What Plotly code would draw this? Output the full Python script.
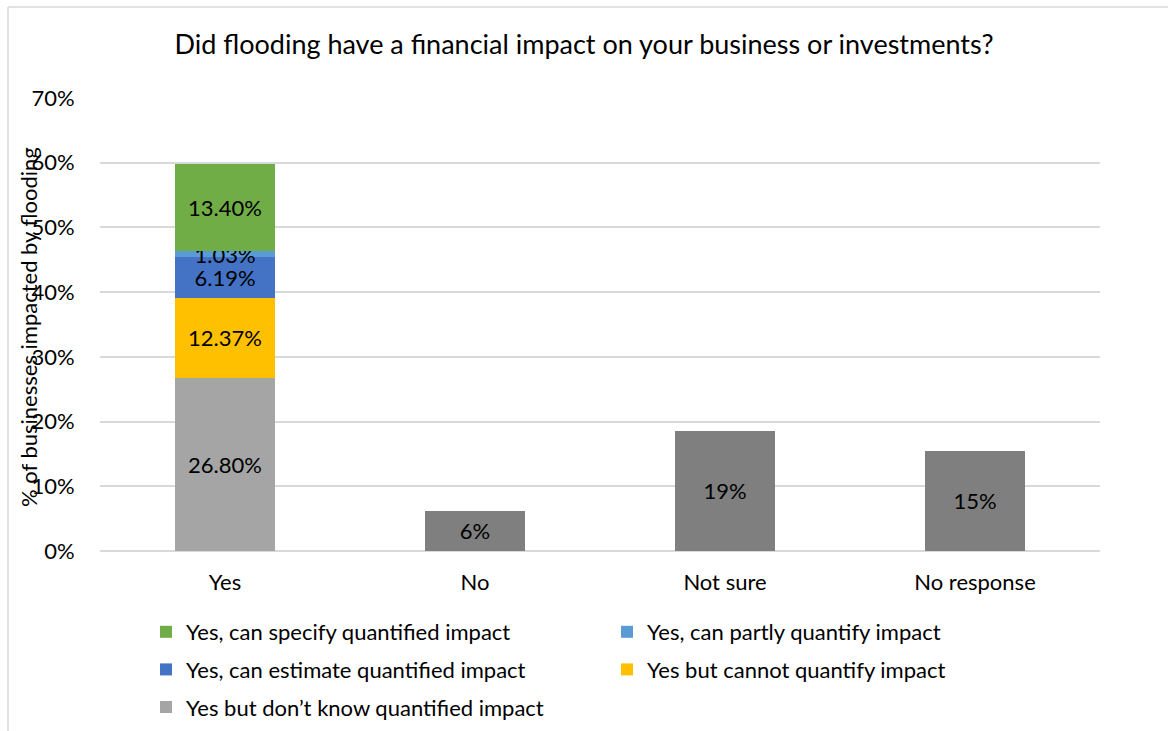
import plotly.graph_objects as go

# Survey categories and shares (% of 97 responding businesses)
categories = ["Yes", "No", "Not sure", "No response"]

yes_series = [
    "Yes but don’t know quantified impact",
    "Yes but cannot quantify impact",
    "Yes, can estimate quantified impact",
    "Yes, can partly quantify impact",
    "Yes, can specify quantified impact",
]
yes_values = [26.80, 12.37, 6.19, 1.03, 13.40]
yes_colors = ["#a5a5a5", "#ffc000", "#4472c4", "#5b9bd5", "#70ad47"]

other_categories = ["No", "Not sure", "No response"]
other_values = [6.19, 18.56, 15.46]

FONT = "Lato"
FS = 22
L, R, T, B = 100, 68, 98, 180
W, H = 1168, 731
plot_w = W - L - R
plot_h = H - T - B


def px_x(px):
    return (px - L) / plot_w


def px_y(py):
    return (H - B - py) / plot_h


fig = go.Figure()

# legend placement: left column and right column
legend_of = {
    "Yes, can specify quantified impact": ("legend", 0),
    "Yes, can estimate quantified impact": ("legend", 1),
    "Yes but don’t know quantified impact": ("legend", 2),
    "Yes, can partly quantify impact": ("legend2", 0),
    "Yes but cannot quantify impact": ("legend2", 1),
}

for name, val, col in zip(yes_series, yes_values, yes_colors):
    lg, rank = legend_of[name]
    fig.add_trace(go.Bar(
        x=["Yes"], y=[val], name=name,
        marker=dict(color=col, line=dict(width=0)),
        texttemplate="%{y:.2f}%", textposition="inside",
        insidetextanchor="middle", constraintext="none",
        textfont=dict(family=FONT, size=FS, color="black"),
        legend=lg, legendrank=rank, legendgroup=name,
        hoverinfo="skip",
    ))

fig.add_trace(go.Bar(
    x=other_categories, y=other_values, name="Total",
    marker=dict(color="#7f7f7f", line=dict(width=0)),
    texttemplate="%{y:.0f}%", textposition="inside",
    insidetextanchor="middle", constraintext="none",
    textfont=dict(family=FONT, size=FS, color="black"),
    showlegend=False, hoverinfo="skip",
))

legend_style = dict(
    xanchor="left", yanchor="top", orientation="v", tracegroupgap=6,
    font=dict(family=FONT, size=FS, color="black"),
    bgcolor="rgba(0,0,0,0)", itemwidth=30,
)

fig.update_layout(
    width=W, height=H,
    barmode="stack", bargap=0.6,
    paper_bgcolor="white", plot_bgcolor="white",
    margin=dict(l=L, r=R, t=T, b=B, autoexpand=False),
    font=dict(family=FONT, size=FS, color="black"),
    title=dict(
        text="Did flooding have a financial impact on your business or investments?",
        font=dict(family=FONT, size=27, color="black"),
        x=0.5, xanchor="center", y=1 - 45 / H, yanchor="middle",
    ),
    xaxis=dict(
        categoryorder="array", categoryarray=categories,
        showgrid=False, showline=False, zeroline=False,
        ticks="outside", ticklen=12, tickcolor="rgba(0,0,0,0)",
        tickfont=dict(family=FONT, size=FS, color="black"),
    ),
    yaxis=dict(
        range=[0, 70], dtick=10, ticksuffix="%",
        showgrid=True, gridcolor="#d9d9d9", gridwidth=1.5,
        zeroline=True, zerolinecolor="#d9d9d9", zerolinewidth=1.5,
        showline=False,
        ticks="outside", ticklen=20, tickcolor="rgba(0,0,0,0)",
        tickfont=dict(family=FONT, size=FS, color="black"),
    ),
    legend=dict(x=px_x(146), y=px_y(611), **legend_style),
    legend2=dict(x=px_x(607), y=px_y(611), **legend_style),
    annotations=[dict(
        text="% of businesses impacted by flooding",
        textangle=-90, xref="paper", yref="paper",
        x=px_x(28), y=px_y(327), xanchor="center", yanchor="middle",
        showarrow=False, font=dict(family=FONT, size=FS, color="black"),
    )],
    shapes=[
        dict(type="line", xref="paper", yref="paper",
             x0=px_x(8), x1=px_x(8), y0=px_y(7), y1=px_y(740),
             line=dict(color="#d9d9d9", width=1.5)),
        dict(type="line", xref="paper", yref="paper",
             x0=px_x(8), x1=px_x(1180), y0=px_y(7), y1=px_y(7),
             line=dict(color="#d9d9d9", width=1.5)),
    ],
)

fig.write_html("out.html")
